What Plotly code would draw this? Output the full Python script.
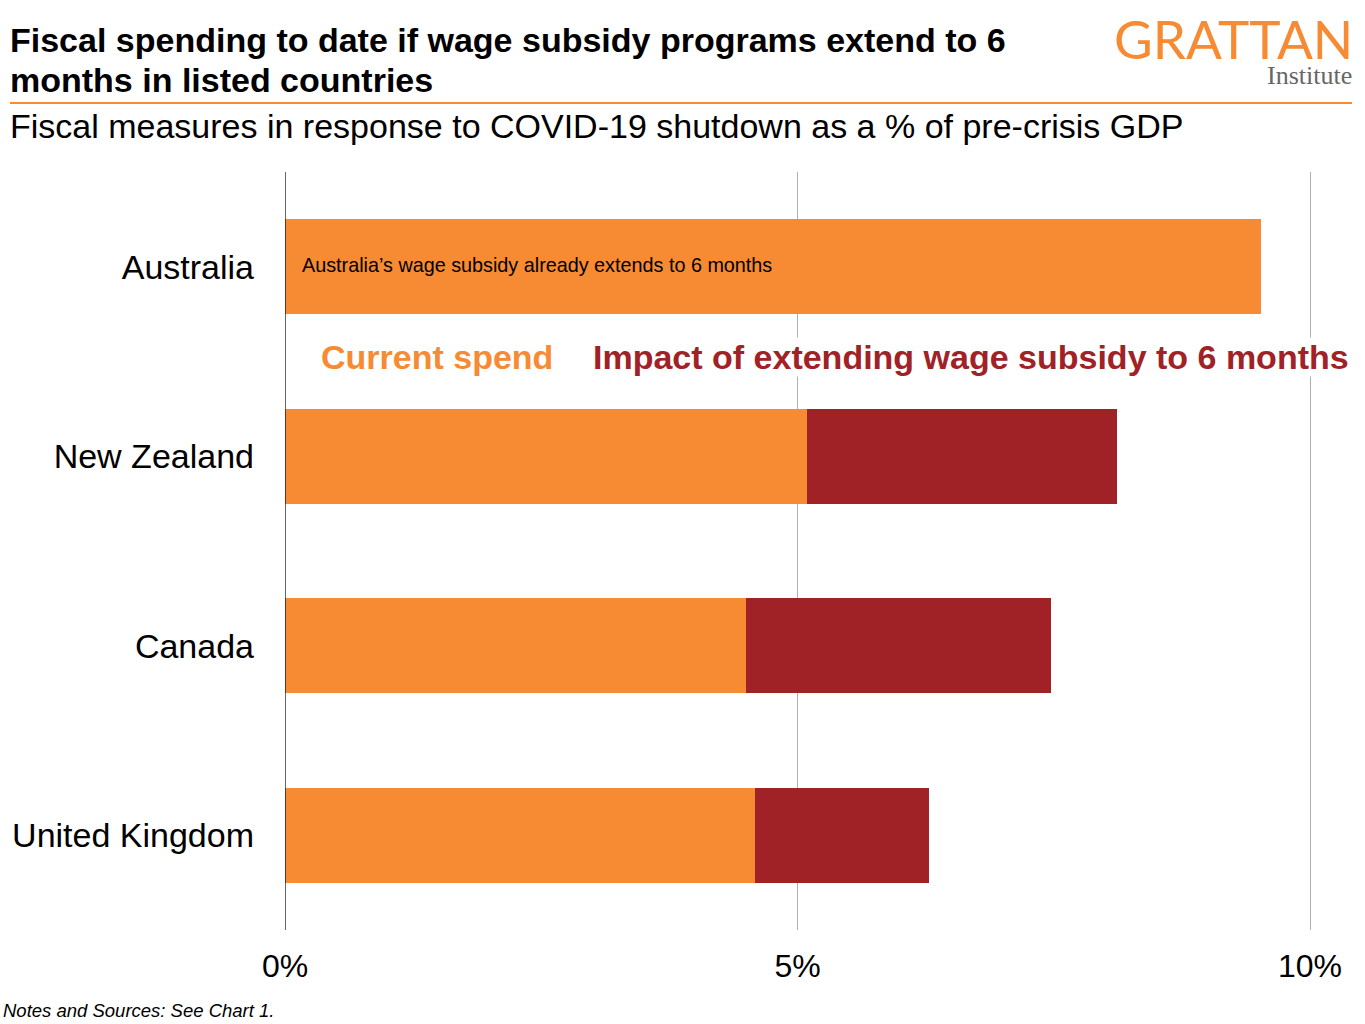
import plotly.graph_objects as go

countries = ["Australia", "New Zealand", "Canada", "United Kingdom"]
current_spend = [9.52, 5.09, 4.50, 4.59]
extension_impact = [0.0, 3.03, 2.97, 1.69]
x_tickvals = [0, 5, 10]
x_ticktext = ["0%", "5%", "10%"]

ORANGE = "#F68B33"
RED = "#A02226"
FONT = "Liberation Sans, Arial, sans-serif"

W, H = 1365, 1024
PLOT_L, PLOT_R10, PLOT_T, PLOT_B = 285, 1310, 172, 930
PW = (PLOT_R10 - PLOT_L) * 1.04
PH = PLOT_B - PLOT_T

fig = go.Figure()
fig.add_trace(go.Bar(y=countries, x=current_spend, orientation="h",
                     marker=dict(color=ORANGE, line=dict(width=0)), width=0.5,
                     name="Current spend", hoverinfo="x+y"))
fig.add_trace(go.Bar(y=countries, x=extension_impact, orientation="h",
                     marker=dict(color=RED, line=dict(width=0)), width=0.5,
                     name="Impact", hoverinfo="x+y"))

fig.update_layout(
    barmode="stack",
    width=W, height=H,
    margin=dict(l=PLOT_L, r=W - PLOT_L - PW, t=PLOT_T, b=H - PLOT_B),
    paper_bgcolor="white", plot_bgcolor="white",
    showlegend=False,
    font=dict(family=FONT, color="black"),
    xaxis=dict(range=[0, 10.4], tickvals=x_tickvals, ticktext=x_ticktext,
               showgrid=True, gridcolor="#b0b0b0", gridwidth=1,
               zeroline=False, showline=False, ticks="",
               tickfont=dict(size=32, color="black"), ticklabelstandoff=14),
    yaxis=dict(categoryorder="array", categoryarray=countries, autorange=False,
               range=[3.5, -0.5], showgrid=False, zeroline=False, ticks="",
               showline=False, tickfont=dict(size=34, color="black"),
               ticklabelstandoff=30),
    shapes=[
        dict(type="line", xref="x", yref="paper", x0=0, x1=0, y0=0, y1=1,
             line=dict(color="black", width=1.2)),
        dict(type="line", xref="paper", yref="paper",
             x0=(10 - PLOT_L) / PW, x1=(1352 - PLOT_L) / PW,
             y0=(PLOT_B - 103) / PH, y1=(PLOT_B - 103) / PH,
             line=dict(color=ORANGE, width=2)),
    ],
)

ann = []
def pa(x, y, text, size, color="black", xanchor="left", family=FONT, bg=None):
    a = dict(xref="paper", yref="paper", x=(x - PLOT_L) / PW, y=(PLOT_B - y) / PH,
             text=text, showarrow=False, xanchor=xanchor, yanchor="middle",
             font=dict(size=size, color=color, family=family),
             align="left", borderpad=0)
    if bg:
        a["bgcolor"] = bg
    ann.append(a)

pa(9, 40, "<b>Fiscal spending to date if wage subsidy programs extend to 6</b>", 34)
pa(9, 80, "<b>months in listed countries</b>", 34)
pa(9, 126, "Fiscal measures in response to COVID-19 shutdown as a % of pre-crisis GDP", 34)
pa(2, 1011, "<i>Notes and Sources: See Chart 1.</i>", 18.5)
pa(1354, 38, "GRATTAN", 53, color=ORANGE, xanchor="right",
   family="Lato, Liberation Sans, sans-serif")
pa(1353, 75, "Institute", 26, color="#666666", xanchor="right",
   family="Liberation Serif, serif")
pa(320, 357, "<b>Current spend</b>", 34, color=ORANGE, bg="white")
pa(592, 357, "<b>Impact of extending wage subsidy to 6 months</b>", 34, color=RED, bg="white")
pa(301, 265, "Australia’s wage subsidy already extends to 6 months", 19.8)
fig.update_layout(annotations=ann)

fig.write_html("out.html", config={"displayModeBar": False},
               post_script="document.body.style.margin='0';")
